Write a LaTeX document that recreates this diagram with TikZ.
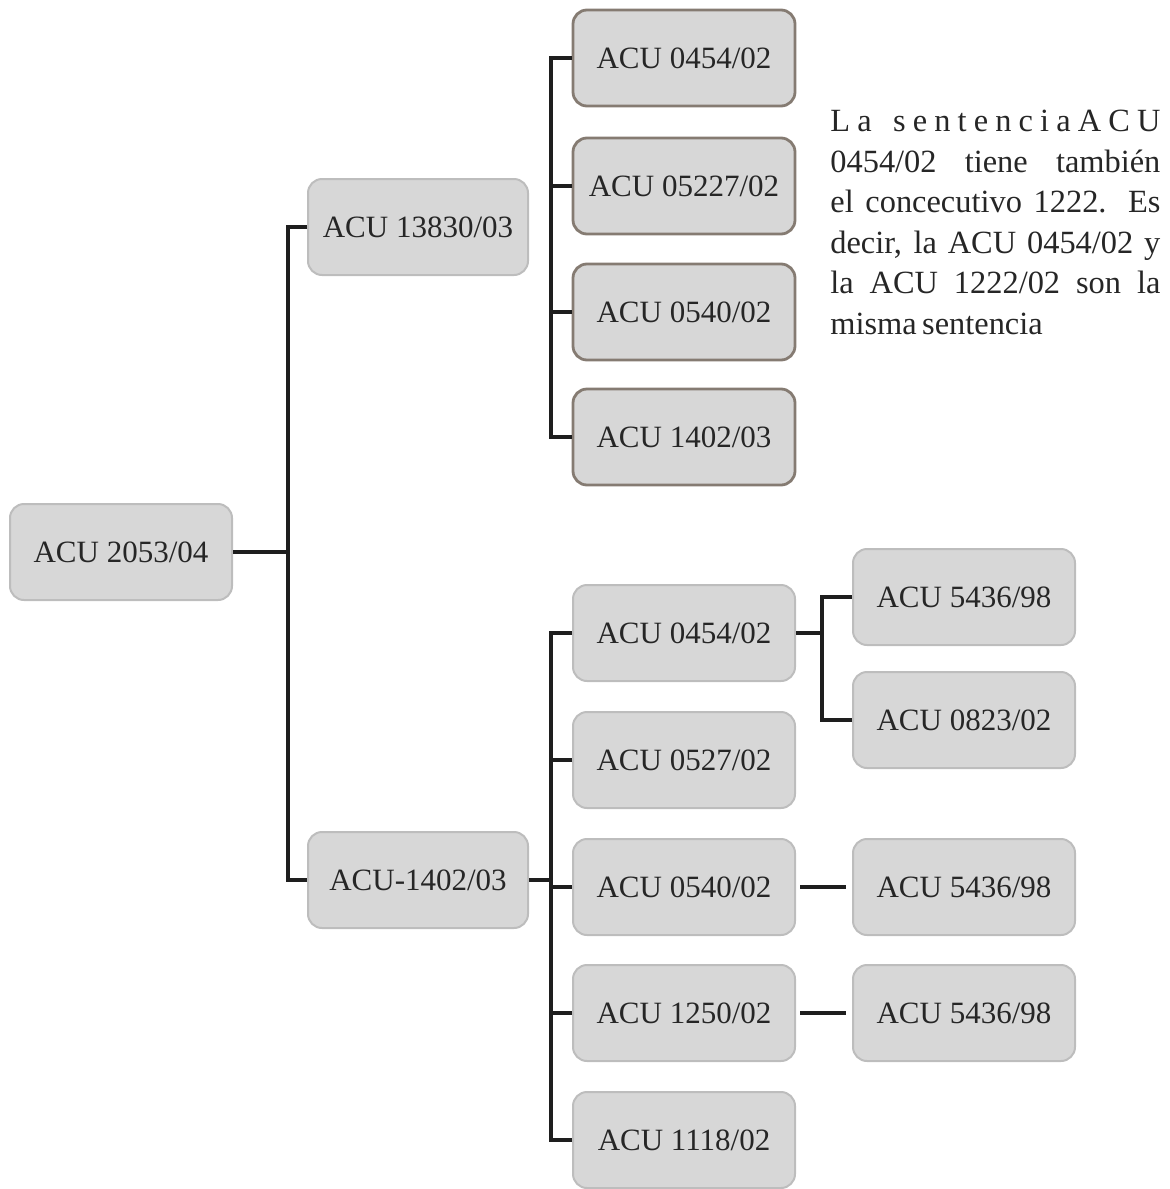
\documentclass[tikz,border=0pt]{standalone}
\usepackage{fontspec}
\setmainfont{Liberation Serif}
\definecolor{boxfill}{HTML}{D7D7D7}
\definecolor{boxline}{HTML}{BDBDBD}
\definecolor{boxdark}{HTML}{857B72}
\definecolor{lineblack}{HTML}{1E1E1E}
\begin{document}
\begin{tikzpicture}[x=0.5pt,y=-0.5pt,
  acubox/.style={draw=boxline, line width=1pt, fill=boxfill, rounded corners=7pt,
    minimum width=111pt, minimum height=48pt, inner sep=0pt,
    font=\fontsize{15.5pt}{18pt}\selectfont, text=black!85},
  acudark/.style={acubox, draw=boxdark, line width=1.4pt},
  link/.style={draw=lineblack, line width=1.6pt}]
\useasboundingbox (0,0) rectangle (1169,1189);
% level 0 and 1
\node[acubox] (root) at (121,552) {ACU 2053/04};
\node[acubox, minimum width=110pt] (a1) at (418,227) {ACU 13830/03};
\node[acubox, minimum width=110pt] (a2) at (418,880) {ACU-1402/03};
% top group
\node[acudark] (b1) at (684,58) {ACU 0454/02};
\node[acudark] (b2) at (684,186) {ACU 05227/02};
\node[acudark] (b3) at (684,312) {ACU 0540/02};
\node[acudark] (b4) at (684,437) {ACU 1402/03};
% bottom group
\node[acubox] (c1) at (684,633) {ACU 0454/02};
\node[acubox] (c2) at (684,760) {ACU 0527/02};
\node[acubox] (c3) at (684,887) {ACU 0540/02};
\node[acubox] (c4) at (684,1013) {ACU 1250/02};
\node[acubox] (c5) at (684,1140) {ACU 1118/02};
% grandchildren
\node[acubox] (d1) at (964,597) {ACU 5436/98};
\node[acubox] (d2) at (964,720) {ACU 0823/02};
\node[acubox] (d3) at (964,887) {ACU 5436/98};
\node[acubox] (d4) at (964,1013) {ACU 5436/98};
% note
\node[anchor=north west, inner sep=0pt, align=left,
  font=\fontsize{16.2pt}{20.25pt}\selectfont, text=black!85] (note) at (830,110) {%
  \makebox[165pt][s]{L\hfill a\hfill\hfill\hfill s\hfill e\hfill n\hfill t\hfill e\hfill n\hfill c\hfill i\hfill a\hfill A\hfill C\hfill U}\\
  \makebox[165pt][s]{0454/02 tiene también}\\
  \makebox[165pt][s]{el concecutivo 1222. Es}\\
  \makebox[165pt][s]{decir, la ACU 0454/02 y}\\
  \makebox[165pt][s]{la ACU 1222/02 son la}\\
  misma\,sentencia};
% junctions
\coordinate (j1) at (288,552);
\coordinate (j2) at (551,250);
\coordinate (j3) at (551,880);
\coordinate (j4) at (822,633);
% connectors
\draw[link] (root.east) -- (j1);
\draw[link] (a1.west) -| (j1) |- (a2.west);
\draw[link] (b1.west) -| (j2) |- (b4.west);
\draw[link] (b2.west) -- (b2.west -| j2);
\draw[link] (b3.west) -- (b3.west -| j2);
\draw[link] (a2.east) -- (j3);
\draw[link] (c1.west) -| (j3) |- (c5.west);
\draw[link] (c2.west) -- (c2.west -| j3);
\draw[link] (c3.west) -- (c3.west -| j3);
\draw[link] (c4.west) -- (c4.west -| j3);
\draw[link] (c1.east) -- (j4);
\draw[link] (d1.west) -| (j4) |- (d2.west);
\draw[link, shorten <=2pt, shorten >=3pt] (c3.east) -- (d3.west);
\draw[link, shorten <=2pt, shorten >=3pt] (c4.east) -- (d4.west);
\end{tikzpicture}
\end{document}
